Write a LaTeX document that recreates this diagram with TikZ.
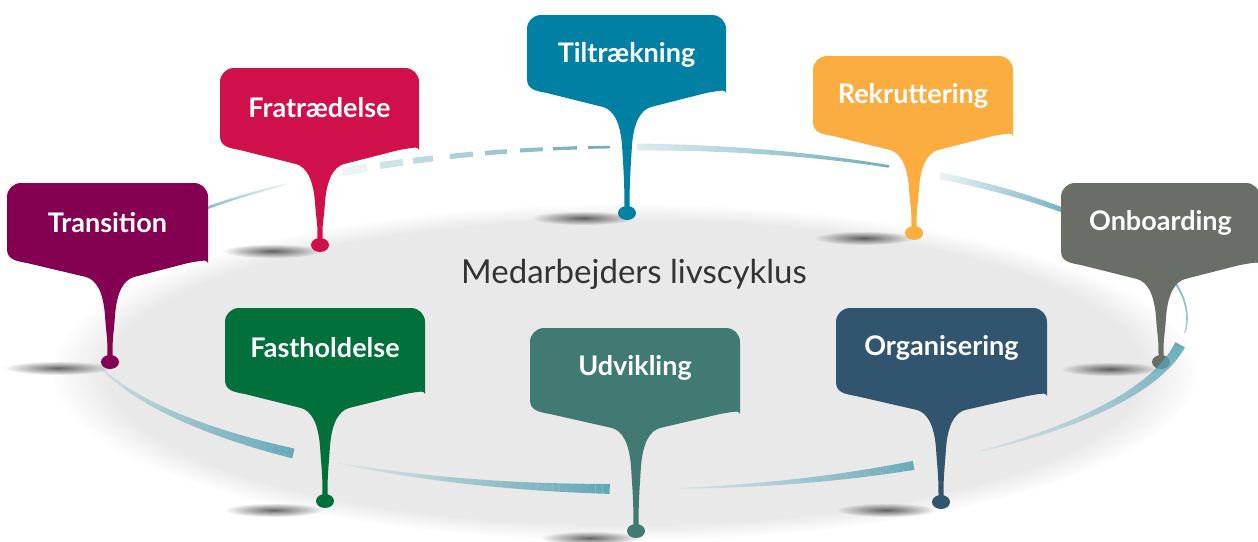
\documentclass[tikz,border=0pt]{standalone}
\usepackage{fontspec}
\setmainfont{Lato}
\usetikzlibrary{fadings}
\tikzfading[name=shfade, inner color=transparent!0, outer color=transparent!100]
\definecolor{ringc}{HTML}{5AA3B5}
\definecolor{bgell}{HTML}{E9E9E9}
\definecolor{cTil}{HTML}{0080A3}
\definecolor{cFra}{HTML}{D0104A}
\definecolor{cTra}{HTML}{840050}
\definecolor{cRek}{HTML}{FBAD40}
\definecolor{cOnb}{HTML}{696E67}
\definecolor{cFas}{HTML}{01703B}
\definecolor{cUdv}{HTML}{417A72}
\definecolor{cOrg}{HTML}{32556F}
\tikzset{
  pinlabel/.style={text=white, font=\bfseries\fontsize{13.5}{15}\selectfont, inner sep=0pt},
  titlelabel/.style={text=black!80, font=\fontsize{16.5}{18}\selectfont, inner sep=0pt},
  pinshadow/.style={black, opacity=0.6, path fading=shfade},
}
% tapered, fading arc of the ring: th1 th2 w1 w2 o1 o2
\newcommand\ringseg[6]{%
  \foreach \i in {0,...,39}{%
    \pgfmathsetmacro\ta{#1+(#2-#1)*\i/40}%
    \pgfmathsetmacro\tb{#1+(#2-#1)*(\i+1)/40}%
    \pgfmathsetmacro\w{0.5*(#3+(#4-#3)*(\i+0.5)/40)}%
    \pgfmathsetmacro\o{#5+(#6-#5)*(\i+0.5)/40}%
    \draw[ringc, line width=\w pt, draw opacity=\o]
      ({632+555*cos(\ta)},{318+171*sin(\ta)}) -- ({632+555*cos(\tb)},{318+171*sin(\tb)});
  }}
% pin: L R T S D color name text H(side height)
\newcommand\pin[9]{%
  \fill[#6] ({(#1+#2)/2},#3) [rounded corners=7pt] -- (#2,#3) -- (#2,{#3+#9}) [sharp corners]
    .. controls (#2,{#3+#9+10}) and ({#2-8},{#3+#9+12}) .. ({#2-20},{#3+#9+14})
    -- ({#4+24},{#3+#9+28})
    .. controls ({#4+14},{#3+#9+31}) and ({#4+7},{#3+#9+42}) .. ({#4+5},{#3+#9+66})
    .. controls ({#4+3.5},{#3+#9+90}) and ({#4+2.5},{#5-30}) .. ({#4+2.5},{#5-4})
    -- ({#4-2.5},{#5-4})
    .. controls ({#4-2.5},{#5-30}) and ({#4-3.5},{#3+#9+90}) .. ({#4-5},{#3+#9+66})
    .. controls ({#4-7},{#3+#9+42}) and ({#4-14},{#3+#9+31}) .. ({#4-24},{#3+#9+28})
    -- ({#1+20},{#3+#9+14})
    .. controls ({#1+8},{#3+#9+12}) and (#1,{#3+#9+10}) .. (#1,{#3+#9})
    [rounded corners=7pt] -- (#1,#3) -- cycle;
  \fill[#6] (#4,#5) ellipse [x radius=9, y radius=7];
  \node[pinlabel] (#7) at ({(#1+#2)/2},{#3+40}) {#8};
}
\begin{document}
\begin{tikzpicture}[x=0.5pt,y=-0.5pt]
\useasboundingbox (0,0) rectangle (1258,541);
\fill[white] (0,0) rectangle (1258,541);
% grey disc
\fill[bgell, path fading=circle with fuzzy edge 10 percent] (625,372) ellipse [x radius=572, y radius=168];
% shadows
\fill[pinshadow] (583,218) ellipse [x radius=52, y radius=7];
\fill[pinshadow] (272,251) ellipse [x radius=50, y radius=7];
\fill[pinshadow] (58,368) ellipse [x radius=54, y radius=7];
\fill[pinshadow] (864,238) ellipse [x radius=50, y radius=7];
\fill[pinshadow] (1110,369) ellipse [x radius=50, y radius=7];
\fill[pinshadow] (274,510) ellipse [x radius=50, y radius=7];
\fill[pinshadow] (886,510) ellipse [x radius=50, y radius=7];
\fill[pinshadow] (590,538) ellipse [x radius=50, y radius=7];
% ring (behind the pins)
\ringseg{216}{231.6}{3}{2}{0.95}{0.1}
\foreach \xa/\xb/\w/\o in {343/367/8/0.12, 380/403/6.7/0.3, 413/433/6/0.4, 450/473/5.2/0.5, 485/507/4.5/0.6, 520/543/4/0.7, 553/577/3.3/0.8, 588/610/2.6/0.85}{%
  \pgfmathsetmacro\ya{318-171*sqrt(1-((\xa-632)/555)^2)}%
  \pgfmathsetmacro\yb{318-171*sqrt(1-((\xb-632)/555)^2)}%
  \draw[ringc, line width=0.5*\w pt, draw opacity=\o] (\xa,\ya) -- (\xb,\yb);
}
\ringseg{270.5}{297.6}{7}{2.5}{0.2}{0.9}
\ringseg{303.7}{320.8}{7}{5}{0.12}{0.85}
\ringseg{344}{365}{2}{1.5}{0.85}{0.5}
\ringseg{59.5}{85}{9}{1}{0.9}{0.08}
\ringseg{92.3}{122}{10}{1}{0.95}{0.05}
\ringseg{127.6}{165}{10}{1}{0.9}{0.05}
% pins
\pin{527}{726}{15}{627}{213}{cTil}{til}{Tiltrækning}{64}
\pin{220}{419}{68}{320}{245}{cFra}{fra}{Fratrædelse}{68}
\pin{7}{208}{183}{110}{362}{cTra}{tra}{Transition}{66}
\pin{813}{1013}{56}{914}{233}{cRek}{rek}{Rekruttering}{66}
\pin{1061}{1260}{183}{1161}{362}{cOnb}{onb}{Onboarding}{68}
\pin{225}{425}{308}{325}{501}{cFas}{fas}{Fastholdelse}{72}
\pin{530}{740}{328}{636}{531}{cUdv}{udv}{Udvikling}{72}
\pin{836}{1047}{308}{941}{502}{cOrg}{org}{Organisering}{74}
% ring segment passing over the Onboarding dot
\ringseg{9}{51}{11}{1.5}{0.9}{0.12}
% title
\node[titlelabel] (title) at (634,274) {Medarbejders livscyklus};
\end{tikzpicture}
\end{document}
